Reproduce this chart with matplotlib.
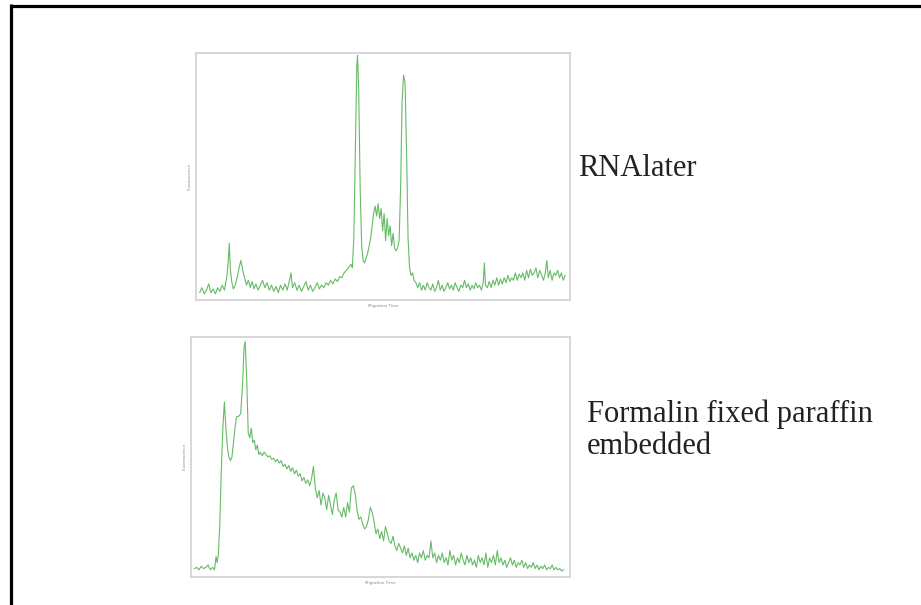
"""Capillary electrophoresis traces: RNAlater vs FFPE."""

import numpy as np
import matplotlib
matplotlib.use('Agg')
import matplotlib.pyplot as plt
from matplotlib.lines import Line2D

# Top trace (RNAlater): migration position, fluorescence (0-100 of panel)
rna_x = [1.0, 1.6, 2.2, 2.8, 3.4, 4.0, 4.6, 5.2, 5.8, 6.4, 7.0, 7.6, 8.2,
         8.6, 8.9, 9.2, 9.6, 10.0, 10.5, 11.0, 11.5, 12.0, 12.5, 13.0, 13.5,
         14.0, 14.5, 15.0, 15.5, 16.0, 16.6, 17.2, 17.8,
         18.4, 19.0, 19.6, 20.2, 20.8, 21.4, 22.0, 22.6, 23.2, 23.8, 24.4,
         25.0, 25.4, 25.8, 26.4, 27.0, 27.6, 28.2, 28.8, 29.4, 30.0, 30.6,
         31.2, 31.8, 32.4, 33.0, 33.6, 34.2, 34.8, 35.4, 36.0, 36.6, 37.2,
         37.8, 38.4, 39.0, 39.6, 40.2, 40.8, 41.4, 41.8,
         42.2, 42.6, 43.0, 43.2, 43.5, 43.9, 44.3, 44.7, 45.1, 45.5, 45.9,
         46.3, 46.7, 47.1, 47.5, 47.9, 48.3, 48.7, 49.1, 49.5, 49.9, 50.3,
         50.7, 51.1, 51.5, 51.9, 52.3, 52.7, 53.1, 53.5, 53.9, 54.3, 54.7,
         55.1, 55.5, 55.9, 56.3, 56.7, 57.1, 57.5, 57.9, 58.3, 58.8, 59.3,
         59.8, 60.3, 60.8, 61.3, 61.8, 62.3, 62.8, 63.3, 63.8, 64.3, 64.8,
         65.3, 65.8, 66.3, 66.8, 67.3, 67.8, 68.3, 68.8, 69.3, 69.8, 70.3,
         70.8, 71.3, 71.8, 72.3, 72.8, 73.3, 73.8, 74.3, 74.8, 75.3, 75.8,
         76.3, 76.8, 77.1, 77.4, 77.9, 78.4, 78.9, 79.4, 79.9, 80.4, 80.9,
         81.4, 81.9, 82.4, 82.9, 83.4, 83.9, 84.4, 84.9, 85.4, 85.9, 86.4,
         86.9, 87.4, 87.9, 88.4, 88.9, 89.4, 89.9, 90.4, 90.9, 91.4, 91.9,
         92.4, 92.9, 93.4, 93.8, 94.2, 94.7, 95.2, 95.7, 96.2, 96.7, 97.2,
         97.7, 98.2, 98.7]
rna_y = [3, 5, 2.5, 4, 6.5, 3, 4.5, 2.5, 5, 3.5, 6, 4, 9,
         15, 23, 12, 7, 4.5, 6, 9, 13, 16, 12, 9, 6,
         8, 5, 7.5, 4.5, 6.5, 4, 6, 8,
         5, 7, 4, 6, 3.5, 5.5, 3, 6, 4, 6.5, 4,
         8, 11, 5, 7, 4, 6, 3.5, 5.5, 7.5, 4, 6,
         3.5, 5, 7, 4.5, 6, 5, 7, 6, 8, 6.5, 8.5,
         7.5, 9.5, 9, 11, 12, 13, 14.5, 13,
         25, 60, 95, 99, 85, 45, 22, 16, 15, 17, 19,
         22, 25, 30, 35, 38, 34, 39, 33, 37, 28, 35,
         24, 33, 26, 30, 22, 27, 21, 20, 21, 24, 45,
         80, 91, 88, 60, 25, 13, 10, 11, 8, 7, 5,
         7, 4, 6, 4, 7, 5, 4, 6.5, 3.5, 5, 8,
         4, 6, 3.5, 5, 7, 4.5, 6, 4, 7, 5, 3.5,
         6, 5, 8, 5, 6.5, 4, 6, 4.5, 7, 5, 6,
         4, 7, 15, 6, 5, 7.5, 5, 8, 6, 9, 6,
         8.5, 6.5, 9, 7, 10, 7.5, 9, 8, 11, 8, 10.5,
         9, 11, 8, 12, 9, 12.5, 10, 11, 13, 9, 12,
         10, 8, 11, 16, 9, 12, 8, 11, 10, 12, 9,
         11, 8, 10]

# Bottom trace (formalin fixed paraffin embedded)
ffpe_x = [0.9, 1.5, 2.1, 2.7, 3.3, 3.9, 4.5, 5.1, 5.7, 6.2, 6.6, 6.9, 7.2,
          7.6, 8.0, 8.4, 8.8, 9.2, 9.6, 10.0, 10.4, 10.8, 11.2, 11.6, 12.0,
          12.6, 13.1, 13.6, 14.0, 14.3, 14.7, 15.1, 15.5, 15.9, 16.3, 16.7,
          17.1, 17.5, 17.9, 18.3, 18.8, 19.3, 19.8, 20.3, 20.8, 21.3, 21.8,
          22.3, 22.8, 23.3, 23.8, 24.3, 24.8, 25.3, 25.8, 26.3, 26.8, 27.3,
          27.8, 28.3, 28.8, 29.3, 29.8, 30.3, 30.8, 31.3, 31.8, 32.3, 32.8,
          33.3, 33.8, 34.3, 34.8, 35.3, 35.8, 36.3, 36.8, 37.3, 37.8, 38.3,
          38.8, 39.3, 39.8, 40.3, 40.8, 41.3, 41.8, 42.3, 42.8, 43.3, 43.8,
          44.3, 44.8, 45.3, 45.8, 46.3, 46.8, 47.3, 47.8, 48.3, 48.8, 49.3,
          49.8, 50.3, 50.8, 51.3, 51.8, 52.3, 52.8, 53.3, 53.8, 54.3, 54.8,
          55.3, 55.8, 56.3, 56.8, 57.3, 57.8, 58.3, 58.8, 59.3, 59.8, 60.3,
          60.8, 61.3, 61.8, 62.3, 62.8, 63.3, 63.8, 64.3, 64.8, 65.3, 65.8,
          66.3, 66.8, 67.3, 67.8, 68.3, 68.8, 69.3, 69.8, 70.3, 70.8, 71.3,
          71.8, 72.3, 72.8, 73.3, 73.8, 74.3, 74.8, 75.3, 75.8, 76.3, 76.8,
          77.3, 77.8, 78.3, 78.8, 79.3, 79.8, 80.3, 80.8, 81.3, 81.8, 82.3,
          82.8, 83.3, 83.8, 84.3, 84.8, 85.3, 85.8, 86.3, 86.8, 87.3, 87.8,
          88.3, 88.8, 89.3, 89.8, 90.3, 90.8, 91.3, 91.8, 92.3, 92.8, 93.3,
          93.8, 94.3, 94.8, 95.3, 95.8, 96.3, 96.8, 97.3, 97.8, 98.3]
ffpe_y = [3.5, 4, 3, 4.5, 3.5, 4, 5, 3, 4, 3, 8.5, 6, 9,
          22, 45, 62, 73, 62, 54, 50, 48.5, 50, 56, 62, 66.7,
          67, 68, 80, 96, 98, 82, 60, 58, 62, 56, 57,
          53, 55, 51, 52, 50.5, 52, 51, 50, 50.5, 49, 49.5,
          48, 49, 47.5, 48.5, 46, 47, 45, 46.5, 44, 45.5, 43,
          44.5, 42, 43, 40, 41.5, 39, 40.5, 38, 41, 46, 37,
          33, 36, 30, 35, 33, 28, 34, 30, 26, 32, 35,
          28, 27, 25, 29, 25, 31, 27, 37, 38, 35, 28,
          24, 25, 22, 20, 21, 24, 29, 27, 23, 18, 20,
          16, 19, 15, 21, 18, 15, 14, 17, 13, 11, 14,
          12, 10, 13, 9, 12, 8, 10, 7, 9, 6, 10,
          8, 11, 7, 9, 8, 15, 8, 10, 6, 9, 7,
          10, 6, 8, 5, 11, 7, 9, 5, 8, 6, 10,
          7, 5, 9, 6, 8, 5, 7, 4, 9, 6, 8,
          5, 10, 4, 8, 6, 9, 5, 11, 6, 8, 5,
          7, 4, 6, 8, 5, 7, 4, 6, 5, 7, 4,
          6, 3.5, 5, 4, 6, 3.5, 5, 3, 4.5, 3.5, 5,
          3, 4, 3.5, 5, 3, 4, 3, 3.5, 2.5, 3]

labels = ['RNAlater', 'Formalin fixed paraffin\nembedded']
x_label = 'Migration Time'
y_label = 'Fluorescence'

line_color = '#66bb66'
frame_color = '#d4d4d4'

fig = plt.figure(figsize=(9.21, 6.05), dpi=100)
fig.patch.set_facecolor('white')

ax_top = fig.add_axes([0.2128, 0.5041, 0.4061, 0.4083])
ax_bot = fig.add_axes([0.2074, 0.0463, 0.4115, 0.3967])

for ax, xs, ys in [(ax_top, rna_x, rna_y), (ax_bot, ffpe_x, ffpe_y)]:
    ax.plot(xs, ys, color=line_color, lw=0.8)
    ax.set_xlim(0, 100)
    ax.set_ylim(0, 100)
    ax.set_xticks([])
    ax.set_yticks([])
    for sp in ax.spines.values():
        sp.set_color(frame_color)
        sp.set_linewidth(1.3)
    ax.set_xlabel(x_label, fontsize=3, color='#888888', labelpad=3)
    ax.set_ylabel(y_label, fontsize=3, color='#888888', labelpad=3)

# Sample labels
fig.text(578 / 921, 1 - 168 / 605, labels[0], family='Liberation Serif',
         fontsize=22, color='#222222', va='center', ha='left')
fig.text(587 / 921, 1 - 430 / 605, labels[1], family='Liberation Serif',
         fontsize=22, color='#222222', va='center', ha='left',
         linespacing=1.15)

# Black frame on top and left edges
fig.add_artist(Line2D([9.5 / 921, 1], [1 - 5.5 / 605] * 2, color='black',
                      lw=2.3, transform=fig.transFigure, solid_capstyle='butt'))
fig.add_artist(Line2D([10.5 / 921] * 2, [0, 1 - 4 / 605], color='black',
                      lw=2.3, transform=fig.transFigure, solid_capstyle='butt'))

fig.savefig('out.png', dpi=100)
